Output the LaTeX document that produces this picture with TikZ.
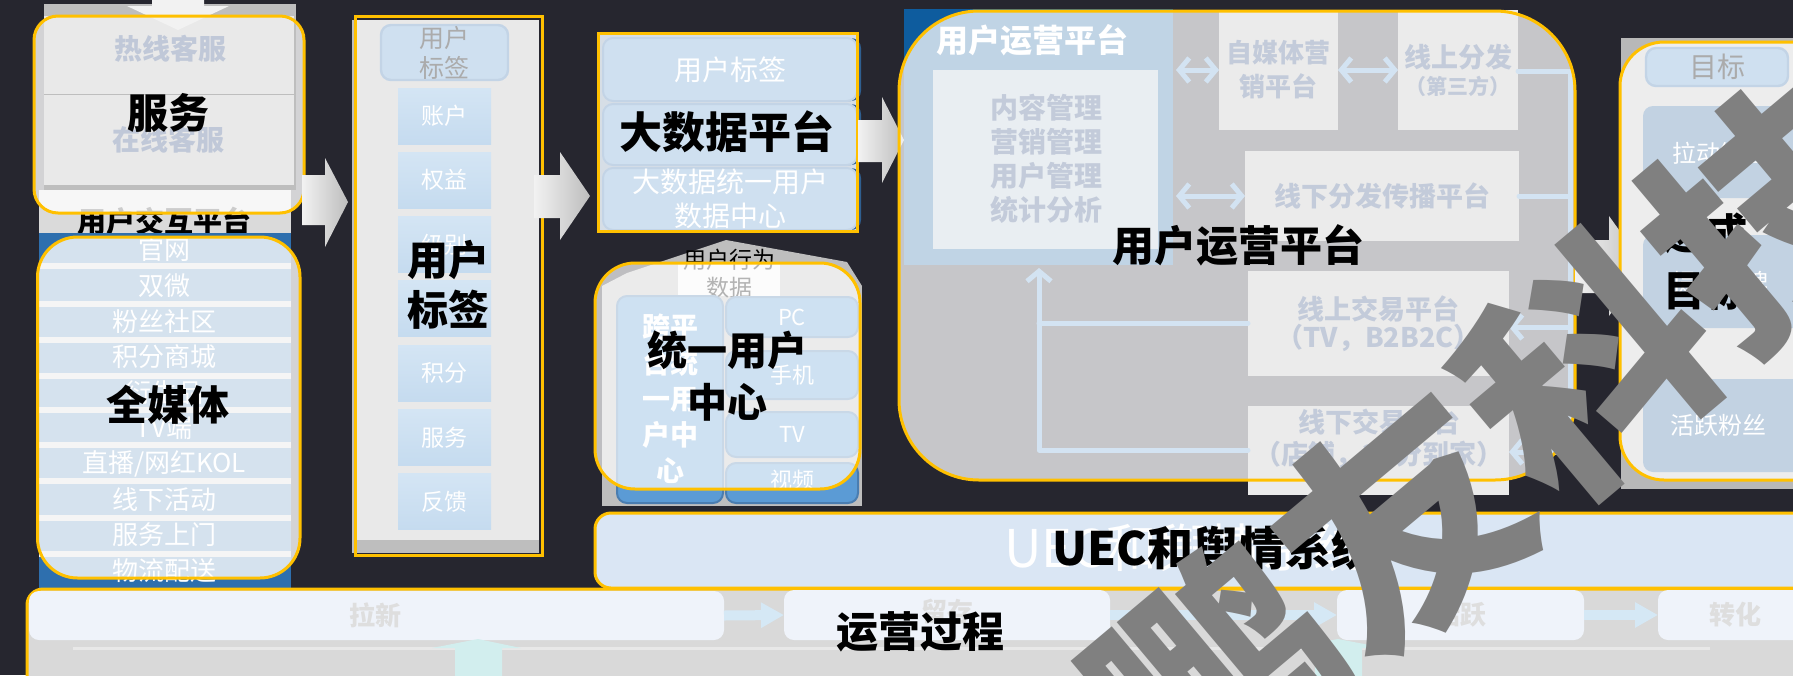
\documentclass[tikz,border=0pt]{standalone}
\usepackage{fontspec}
\setmainfont{Noto Sans CJK SC}
\usetikzlibrary{arrows.meta}
\definecolor{bg}{HTML}{26262F}
\definecolor{org}{HTML}{FFC000}
\definecolor{colblue}{HTML}{2E6FAE}
\definecolor{cstrip}{HTML}{DADADA}
\definecolor{cfr}{HTML}{BEBEBE}
\definecolor{cpanel}{HTML}{E9E9E9}
\definecolor{gbtxt}{HTML}{C0C8D8}
\definecolor{lbox}{HTML}{CFE0F0}
\definecolor{lboxd}{HTML}{C3D4E6}
\definecolor{bdfill}{HTML}{D6DEE6}
\definecolor{tagtxt}{HTML}{ABABAB}
\definecolor{itemT}{HTML}{D4E5F4}
\definecolor{itemB}{HTML}{C5DBEF}
\definecolor{bdedge}{HTML}{2F5F90}
\definecolor{rawblue}{HTML}{5B9BD5}
\definecolor{rawblued}{HTML}{4A7DB0}
\definecolor{ublue}{HTML}{0E5C9E}
\definecolor{nrbox}{HTML}{E9EEF2}
\definecolor{pbox}{HTML}{EBEBEB}
\definecolor{ptxt}{HTML}{C3CBDA}
\definecolor{conn}{HTML}{D3E3F2}
\definecolor{tggray}{HTML}{B8B8B8}
\definecolor{tgbox}{HTML}{C2D2E2}
\definecolor{uec}{HTML}{DAE6F4}
\definecolor{botbar}{HTML}{D9D9D9}
\definecolor{stepc}{HTML}{EFF3FA}
\definecolor{steptxt}{HTML}{DEDEDE}
\definecolor{steparr}{HTML}{D5E8F5}
\definecolor{thinl}{HTML}{E8E8E8}
\definecolor{cyanarr}{HTML}{D2EEEE}
\definecolor{wm}{HTML}{808080}
\definecolor{sepc}{HTML}{F5F5F5}
\definecolor{arrL}{HTML}{F2F2F2}
\definecolor{arrR}{HTML}{BDBDBD}
\newcommand\fs[2]{\fontsize{#1}{#2}\selectfont}
\newcommand\bx[7]{\node[anchor=north west, minimum width={(#4-#2)*0.5pt}, minimum height={(#5-#3)*0.5pt}, #6] (#1) at (#2,#3) {#7};}
\tikzset{
  every node/.style={inner sep=0pt, outer sep=0pt},
  big/.style={font=\bfseries\fs{21}{26}, text=black, align=center},
  wtxt/.style={text=white, align=center},
  gtxt/.style={text=ptxt, align=center, font=\bfseries\fs{13.5}{17}},
  obord/.style={draw=org, line width=1.5pt},
  ovl/.style={fill=white, fill opacity=#1},
  cline/.style={draw=conn, line width=2.5pt, line cap=round, line join=round},
  barb/.style={-{Straight Barb[length=5pt,width=12pt]}},
  dbarb/.style={{Straight Barb[length=5pt,width=12pt]}-{Straight Barb[length=5pt,width=12pt]}},
  bigarrow/.style={left color=arrL, right color=arrR},
}
\begin{document}
\begin{tikzpicture}[x=0.5pt,y=-0.5pt]
\useasboundingbox (0,0) rectangle (1793,675);
\fill[bg] (0,0) rectangle (1793,675);

% ================= left column: service + full media
\fill[cstrip] (39,190) rectangle (291,233);
\node[font=\bfseries\fs{14.5}{17}] (jiaohu) at (164,221) {用户交互平台};
\fill[colblue] (39,233) rectangle (291,590);
\fill[ovl=0.8, rounded corners=12pt] (34,16) rectangle (304,213);
\fill[ovl=0.8, rounded corners=20pt] (37.5,237) rectangle (300,578);
% service panel
\fill[cfr] (44,4) rectangle (296,190);
\bx{rx}{44}{16}{294}{94}{fill=cpanel}{}
\bx{zx}{44}{95}{294}{185}{fill=cpanel}{}
\fill[arrL] (152,0) -- (204,0) -- (204,6) -- (229,6) -- (178,30) -- (127,6) -- (152,6) -- cycle;
\node[text=gbtxt, font=\bfseries\fs{14}{17}] (rxt) at (170,49) {热线客服};
\node[text=gbtxt, font=\bfseries\fs{14}{17}] (zxt) at (168,140) {在线客服};
% list rows
\foreach \s in {266,304,340,376,410,445,481,518,554} \fill[sepc] (39,\s-3) rectangle (291,\s+3);
\foreach \t [count=\i] in {官网,双微,粉丝社区,积分商城,衍生品,TV端,直播/网红KOL,线下活动,服务上门,物流配送}
  {\pgfmathsetmacro\yy{250+35.6*(\i-1)}
   \node[wtxt, font=\fs{13}{15}] (li\i) at (164,\yy) {\t};}
\draw[obord, rounded corners=12pt] (34,16) rectangle (304,213);
\draw[obord, rounded corners=20pt] (37.5,237) rectangle (300,578);
\node[big, font=\bfseries\fs{20.5}{25}] (fuwu) at (168,113) {服务};
\node[big, font=\bfseries\fs{20.5}{25}] (qmt) at (168,405) {全媒体};

% arrow 1
\shade[bigarrow] (302,175) -- (325,175) -- (325,158) -- (348,202) -- (325,247) -- (325,225) -- (302,225) -- cycle;

% ================= user tag panel
\fill[cfr] (352,20) rectangle (539,553);
\fill[cpanel] (357,20) rectangle (539,540);
\bx{tagtop}{381}{25}{508}{80}{fill=lbox, draw=lboxd, line width=1.2pt, rounded corners=5pt, text=tagtxt, font=\fs{12.5}{15}, align=center}{用户\\标签}
\foreach \t [count=\i] in {账户,权益,级别,{},积分,服务,反馈}
  {\pgfmathsetmacro\ya{88+64.3*(\i-1)}
   \pgfmathsetmacro\yb{\ya+56}
   \bx{tg\i}{398}{\ya}{491}{\yb}{top color=itemT, bottom color=itemB, text=white, font=\fs{11.5}{14}}{\t}}
\draw[obord] (355,16) rectangle (542,555);
\node[big, font=\bfseries\fs{20.5}{25}] (yhbq) at (448,285) {用户\\标签};

% arrow 2
\shade[bigarrow] (534,175) -- (560,175) -- (560,152) -- (590,196) -- (560,240) -- (560,218) -- (534,218) -- cycle;

% ================= big data platform
\fill[bdfill] (598,33) rectangle (857,231);
\foreach \a/\b in {38/101,104/165,168/230} \fill[bdedge, rounded corners=5pt] (606,\a) rectangle (861,\b);
\bx{bd1}{603}{38}{857}{101}{fill=lbox, draw=lboxd, line width=1pt, rounded corners=5pt, text=white, font=\fs{14}{17}}{用户标签}
\bx{bd2}{603}{104}{857}{165}{fill=lbox, draw=lboxd, line width=1pt, rounded corners=5pt}{}
\bx{bd3}{603}{168}{857}{230}{fill=lbox, draw=lboxd, line width=1pt, rounded corners=5pt, text=white, font=\fs{14}{17}, align=center}{大数据统一用户\\数据中心}
\draw[obord] (598,33) rectangle (857,231);
\node[big, font=\bfseries\fs{21.5}{26}] (dsj) at (727,132) {大数据平台};

% arrow 3
\shade[bigarrow] (858,120) -- (882,120) -- (882,97) -- (904,140) -- (882,183) -- (882,162) -- (858,162) -- cycle;

% ================= unified user centre
\fill[cfr] (602,286) rectangle (862,506);
\fill[cfr] (602,286) -- (627,273) -- (726,240) -- (847,262) -- (862,286) -- cycle;
\fill[sepc] (678,262) rectangle (780,296);
\node[font=\fs{11.5}{14}, align=center] (xwsj) at (729,274) {用户行为\\数据};
\bx{kpt}{617}{296}{723}{503}{fill=rawblue, draw=rawblued, line width=1pt, rounded corners=5pt}{}
\bx{pc}{726}{297}{858}{337}{fill=rawblue, draw=rawblued, line width=1pt, rounded corners=5pt}{}
\bx{sj}{726}{351}{858}{399}{fill=rawblue, draw=rawblued, line width=1pt, rounded corners=5pt}{}
\bx{tv}{726}{412}{858}{457}{fill=rawblue, draw=rawblued, line width=1pt, rounded corners=5pt}{}
\bx{sp}{726}{463}{858}{503}{fill=rawblue, draw=rawblued, line width=1pt, rounded corners=5pt}{}
\fill[ovl=0.7, rounded corners=20pt] (595,263) rectangle (860,489);
\node[wtxt, font=\bfseries\fs{14}{18}] (kptt) at (670,399) {跨平\\台统\\一用\\户中\\心};
\node[wtxt, font=\fs{11}{13}] (pct) at (pc) {PC};
\node[wtxt, font=\fs{11}{13}] (sjt) at (sj) {手机};
\node[wtxt, font=\fs{11}{13}] (tvt) at (tv) {TV};
\node[wtxt, font=\fs{11}{13}] (spt) at (792,480) {视频};
\draw[obord, rounded corners=20pt] (595,263) rectangle (860,489);
\node[big, font=\bfseries\fs{20}{26}] (tyzx) at (727,376) {统一用户\\中心};

% ================= user operation platform
\fill[ublue] (904,9) rectangle (1173,265);
\fill[ovl=0.74, rounded corners=40pt] (899,11) rectangle (1575,480);
\node[wtxt, font=\bfseries\fs{16}{19}] (yyt) at (1032,40) {用户运营平台};
\bx{nr}{933}{70}{1158}{249}{fill=nrbox}{}
\node[gtxt, font=\bfseries\fs{14}{17}] (nrt) at (1046,159) {内容管理\\营销管理\\用户管理\\统计分析};
\bx{zmt}{1219}{10}{1338}{130}{fill=pbox, gtxt, font=\bfseries\fs{13}{17}}{自媒体营\\销平台}
\bx{xsff}{1398}{10}{1518}{130}{fill=pbox}{}
\node[gtxt] (xsfft) at (1458,57) {线上分发};
\node[gtxt, font=\bfseries\fs{10.5}{12}] (dsf) at (1458,86) {（第三方）};
\bx{xxff}{1245}{151}{1519}{241}{fill=pbox, gtxt}{线下分发传播平台}
\bx{xsjy}{1248}{271}{1509}{376}{fill=pbox, gtxt, font=\bfseries\fs{13.5}{14}}{线上交易平台\\（TV，B2B2C）}
\bx{xxjy}{1248}{406}{1509}{495}{fill=pbox}{}
\node[gtxt, font=\bfseries\fs{13.5}{16}] (xxjyt) at (1379,439) {线下交易平台\\（店铺，30分到家）};
% connectors
\draw[cline, dbarb] (1176,70) -- (zmt.west |- 0,70);
\draw[cline, dbarb] (zmt.east |- 0,70) -- (xsff.west |- 0,70);
\draw[cline, dbarb] (1176,196) -- (xxff.west);
\coordinate (bus1) at (1570,71);
\coordinate (bus2) at (1570,452);
\draw[cline] (xsff.east |- bus1) -- (bus1) -- (bus2);
\draw[cline] (xxff.east) -- (1570,196);
\draw[cline, barb] (1570,327) -- (xsjy.east |- 0,327);
\draw[cline, barb] (bus2) -- (xxjy.east |- bus2);
\coordinate (upc) at (1039,450);
\draw[cline, barb] (xxjy.west |- upc) -- (upc) -- (1039,268);
\draw[cline] (xsjy.west |- 0,323) -- (1039,323);
\draw[obord, rounded corners=40pt] (899,11) rectangle (1575,480);
\node[big, font=\bfseries\fs{21}{26}] (yyptbig) at (1238,245) {用户运营平台};

% arrow 4
\shade[bigarrow] (1575,240) -- (1609,240) -- (1609,216) -- (1645,266) -- (1609,316) -- (1609,293) -- (1575,293) -- cycle;

% ================= target panel
\fill[tggray] (1621,38) rectangle (1800,489);
\fill[ovl=0.75, rounded corners=22pt] (1620,42) rectangle (1850,480);
\bx{mb}{1646}{48}{1788}{86}{fill=lbox, draw=lboxd, line width=1.2pt, rounded corners=5pt, text=tagtxt, font=\fs{14}{16}}{目标}
\bx{t1}{1643}{106}{1810}{198}{fill=tgbox, rounded corners=5pt}{}
\bx{t2}{1643}{235}{1810}{328}{fill=tgbox, rounded corners=5pt}{}
\bx{t3}{1643}{379}{1810}{472}{fill=tgbox, rounded corners=5pt}{}
\node[wtxt, font=\fs{12}{14}] (t1t) at (1720,153) {拉动销售};
\node[wtxt, font=\fs{12}{14}] (t2t) at (1720,282) {提升品牌};
\node[wtxt, font=\fs{12}{14}] (t3t) at (1718,425) {活跃粉丝};
\draw[obord, rounded corners=22pt] (1620,42) rectangle (1850,480);
\node[big, font=\bfseries\fs{21}{28.5}] (dcmb) at (1705,262) {达成\\目标};

% ================= UEC bar
\bx{uecbar}{595}{513}{1840}{588}{fill=uec, draw=org, line width=1.5pt, rounded corners=8pt}{}
\node[wtxt, font=\fs{26}{28}] (uecw) at (1185,548) {UEC和舆情系统};
\node[big, font=\bfseries\fs{23}{26}] (uecb) at (1215,548) {UEC和舆情系统};

% ================= operation process bar
\fill[botbar, rounded corners=8pt] (27,589) rectangle (1840,700);
\draw[obord, rounded corners=8pt] (27,589) rectangle (1840,700);
\bx{s1}{29}{591}{724}{640}{fill=stepc, rounded corners=5pt}{}
\bx{s2}{784}{590}{1110}{640}{fill=stepc, rounded corners=5pt}{}
\bx{s3}{1337}{590}{1584}{640}{fill=stepc, rounded corners=5pt}{}
\bx{s4}{1658}{590}{1840}{640}{fill=stepc, rounded corners=5pt}{}
\node[text=steptxt, font=\bfseries\fs{13}{15}] (s1t) at (375,615) {拉新};
\node[text=steptxt, font=\bfseries\fs{13}{15}] (s2t) at (947,612) {留存};
\node[text=steptxt, font=\bfseries\fs{13}{15}] (s3t) at (1460,615) {活跃};
\node[text=steptxt, font=\bfseries\fs{13}{15}] (s4t) at (1735,615) {转化};
\draw[steparr, line width=5pt, -{Triangle[length=11.5pt,width=12pt]}] (s1.east) -- (s2.west);
\draw[steparr, line width=5pt, -{Triangle[length=11.5pt,width=12pt]}] (s2.east) -- (s3.west);
\draw[steparr, line width=5pt, -{Triangle[length=11.5pt,width=12pt]}] (s3.east) -- (s4.west);
\draw[thinl, line width=1.5pt] (73,648) -- (1710,648);
\fill[cyanarr] (432,648) -- (478,639) -- (521,648) -- (502,648) -- (502,680) -- (455,680) -- (455,648) -- cycle;
\fill[cyanarr] (1290,648) -- (1338,639) -- (1385,648) -- (1362,648) -- (1362,680) -- (1315,680) -- (1315,648) -- cycle;
\node[big, font=\bfseries\fs{21}{26}] (yygc) at (920,632) {运营过程};

% ================= watermark
\node[rotate=40, text=wm, font=\bfseries\fs{120}{120}] (wmk) at (1495,445) {鹏友科技};
\end{tikzpicture}
\end{document}
